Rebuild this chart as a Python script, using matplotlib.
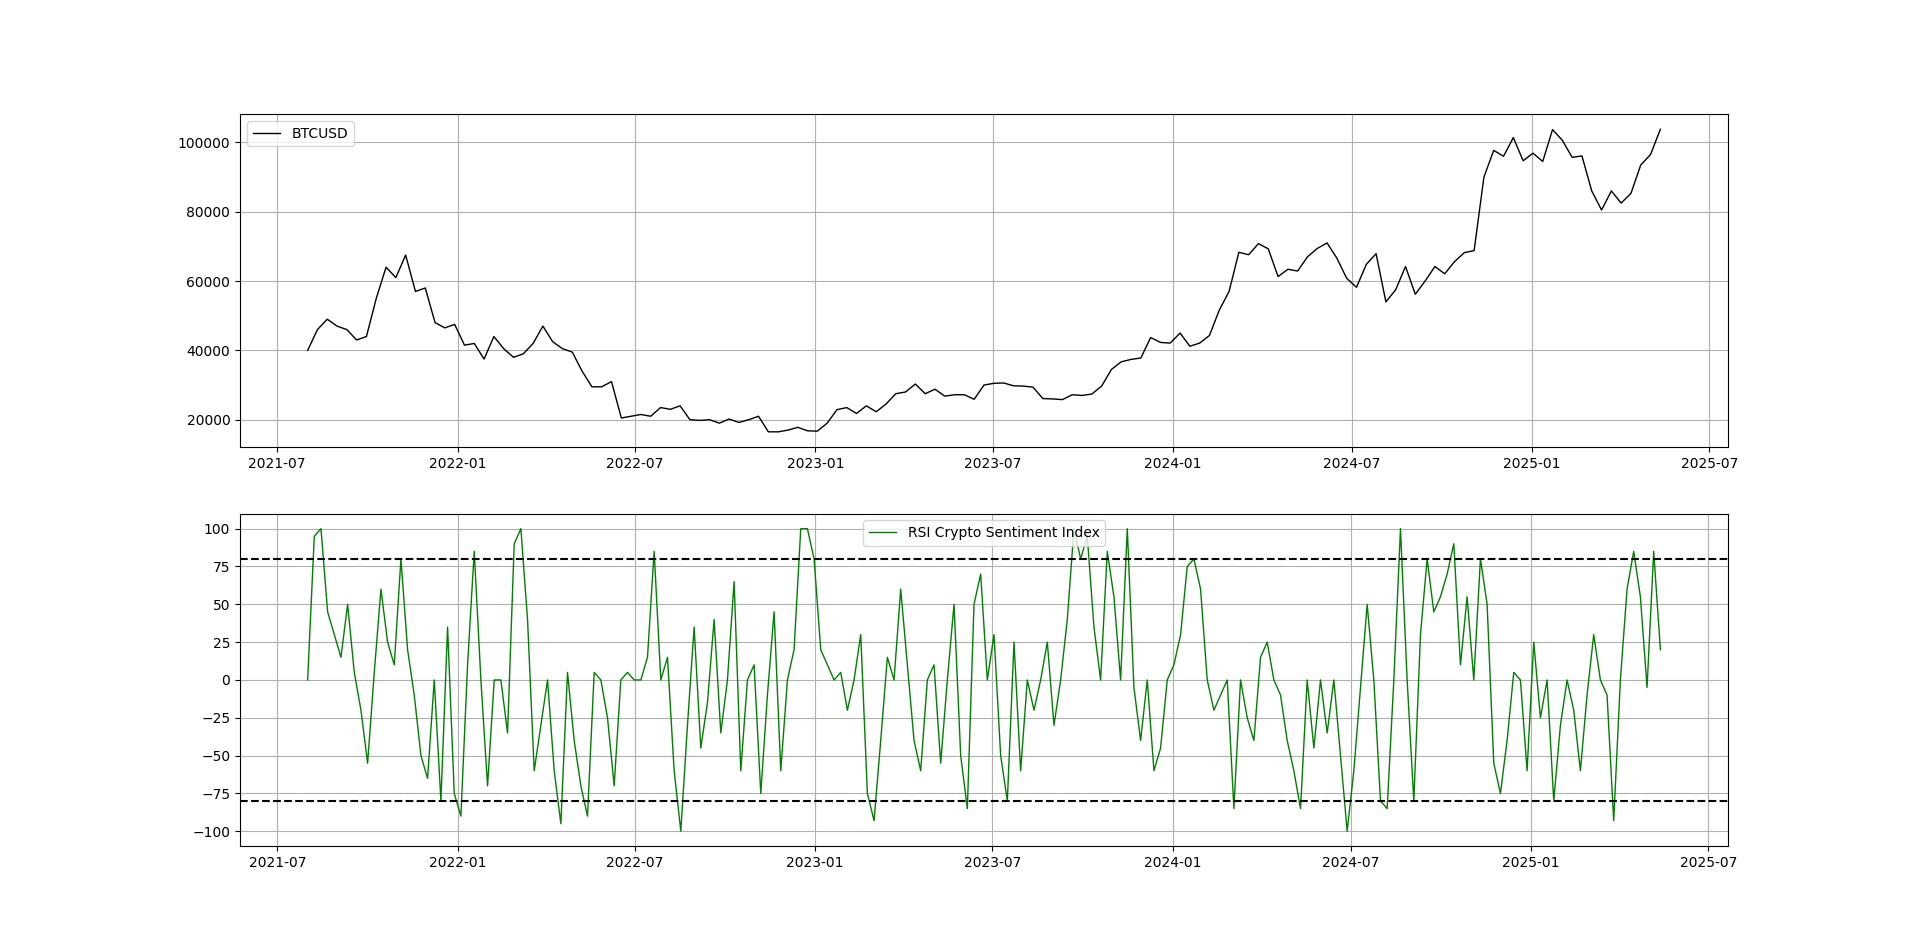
import matplotlib
matplotlib.use("Agg")
import matplotlib.pyplot as plt
import pandas as pd

# BTC close, sampled every 10 days from 2021-08-01
btc_start = "2021-08-01"
btc_values = [
    40000, 46000, 49000, 47000, 46000, 43000, 44000, 55000, 64000, 61000,
    67500, 57000, 58000, 48000, 46500, 47500, 41500, 42000, 37500, 44000,
    40500, 38000, 39000, 42000, 47000, 42500, 40500, 39500, 34000, 29500,
    29500, 31000, 20500, 21000, 21500, 21000, 23500, 23000, 24000, 20000,
    19800, 20000, 19000, 20200, 19200, 20000, 21000, 16500, 16500, 17000,
    17800, 16800, 16700, 19000, 22900, 23500, 21800, 24000, 22300, 24500,
    27500, 28000, 30300, 27500, 28800, 26800, 27200, 27200, 25900, 30000,
    30500, 30600, 29800, 29700, 29400, 26100, 26000, 25800, 27200, 27000,
    27400, 29700, 34500, 36700, 37400, 37800, 43700, 42300, 42100, 45000,
    41200, 42100, 44300, 51600, 57000, 68300, 67600, 70800, 69300, 61300,
    63400, 62900, 67000, 69400, 71000, 66600, 60800, 58200, 64800, 67900,
    54000, 57500, 64200, 56200, 60000, 64200, 62100, 65600, 68200, 68800,
    90000, 97700, 96000, 101400, 94700, 96900, 94500, 103700, 100600, 95700,
    96100, 86000, 80500, 86000, 82500, 85300, 93500, 96500, 103800,
]

# RSI sentiment, roughly weekly over the same span
rsi_end = "2025-05-13"
rsi_values = [
    0, 95, 100, 45, 30, 15, 50, 5, -20, -55, 5, 60, 25, 10, 80, 20, -10, -50, -65, 0, -80, 35,
    -75, -90, 10, 85, 0, -70, 0, 0, -35, 90, 100, 40, -60, -30, 0, -60, -95, 5, -40, -70, -90, 5, 0, -25, -70, 0,
    5, 0, 0, 15, 85, 0, 15, -60, -100, -30, 35, -45, -15, 40, -35, 0, 65, -60, 0, 10, -75, -10, 45, -60, 0, 20,
    100, 100, 80, 20, 10, 0, 5, -20, 0, 30, -75, -93, -40, 15, 0, 60, 10, -40, -60, 0, 10, -55, 0, 50, -50, -85,
    50, 70, 0, 30, -50, -80, 25, -60, 0, -20, 0, 25, -30, 0, 40, 100, 80, 95, 35, 0, 85, 55, 0, 100, -5, -40,
    0, -60, -45, 0, 10, 30, 75, 80, 60, 0, -20, -10, 0, -85, 0, -25, -40, 15, 25, 0, -10, -40, -60, -85, 0, -45,
    0, -35, 0, -50, -100, -60, -5, 50, 0, -80, -85, 0, 100, 0, -80, 30, 80, 45, 55, 70, 90, 10, 55, 0, 80, 50, -55,
    -75, -40, 5, 0, -60, 25, -25, 0, -80, -30, 0, -20, -60, -10, 30, 0, -10, -93, 0, 60, 85, 55, -5, 85, 20,
]

btc_dates = pd.date_range(btc_start, periods=len(btc_values), freq="10D")
rsi_dates = pd.date_range(btc_start, rsi_end, periods=len(rsi_values))

fig, (ax1, ax2) = plt.subplots(2, 1, figsize=(19.2, 9.51), dpi=100)

ax1.plot(btc_dates, btc_values, color="black", linewidth=1, label="BTCUSD")
ax1.grid(True)
ax1.legend(loc="upper left")

ax2.plot(rsi_dates, rsi_values, color="green", linewidth=1, label="RSI Crypto Sentiment Index")
ax2.axhline(80, color="black", linestyle="--")
ax2.axhline(-80, color="black", linestyle="--")
ax2.grid(True)
ax2.legend(loc="upper center")

fig.savefig("out.png")
